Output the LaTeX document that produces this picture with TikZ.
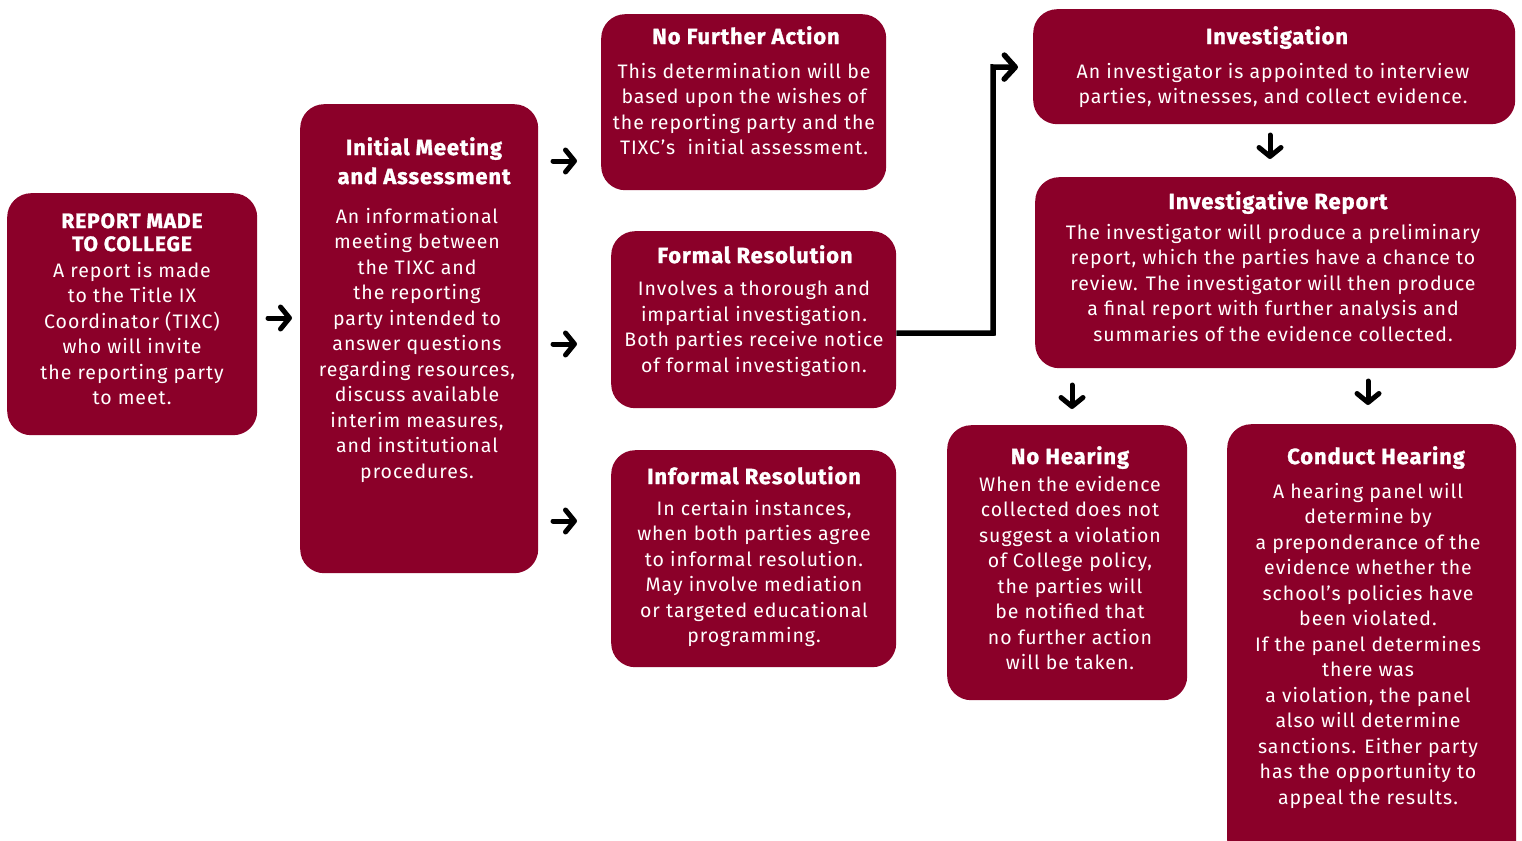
\documentclass[tikz,border=0pt]{standalone}
\usepackage{fontspec}
\setmainfont{Fira Sans}[LetterSpace=5,BoldFeatures={FakeBold=1.2,LetterSpace=4}]
\usetikzlibrary{arrows.meta,calc}
\definecolor{boxred}{RGB}{139,0,41}
\begin{document}
\begin{tikzpicture}[x=1pt,y=-1pt,
  box/.style={draw=none,fill=boxred,rounded corners=24pt,anchor=north west,inner sep=0pt},
  ttl/.style={text=white,align=center,inner sep=0pt,anchor=north,font=\bfseries\fontsize{22}{29}\selectfont},
  body/.style={text=white,align=center,inner sep=0pt,anchor=north,font=\fontsize{19.5}{25.5}\selectfont},
  arr/.style={line width=5pt,line cap=round,-{Straight Barb[length=9pt,width=22pt,round]}},
  elbow/.style={line width=5.5pt,-{Straight Barb[length=11pt,width=24pt,round]}}]
\useasboundingbox (0,0) rectangle (1522,840);
\clip (0,0) rectangle (1522,840);
% boxes
\node[box,minimum width=250pt,minimum height=242pt] (rep) at (7,193) {};
\node[box,minimum width=238pt,minimum height=469pt] (init) at (300,104) {};
\node[box,minimum width=285pt,minimum height=176pt] (nfa) at (601,14) {};
\node[box,minimum width=285pt,minimum height=177pt] (formal) at (611,231) {};
\node[box,minimum width=285pt,minimum height=217pt] (informal) at (611,450) {};
\node[box,minimum width=482pt,minimum height=115pt] (inv) at (1033,9) {};
\node[box,minimum width=481pt,minimum height=191pt] (irep) at (1035,177) {};
\node[box,minimum width=240pt,minimum height=275pt] (nohear) at (947,425) {};
\node[box,minimum width=289pt,minimum height=440pt] (conduct) at (1227,424) {};
% titles
\node[ttl,font=\bfseries\fontsize{21}{23}\selectfont] (rept) at (132,213) {REPORT MADE\\TO COLLEGE};
\node[ttl] (initt) at (424,137) {Initial Meeting\\and Assessment};
\node[ttl] (nfat) at (746,26) {No Further Action};
\node[ttl] (formalt) at (755,245) {Formal Resolution};
\node[ttl] (informalt) at (754,466) {Informal Resolution};
\node[ttl] (invt) at (1277,26) {Investigation};
\node[ttl] (irept) at (1278,191) {Investigative Report};
\node[ttl] (noheart) at (1070,446) {No Hearing};
\node[ttl] (conductt) at (1376,446) {Conduct Hearing};
% bodies
\node[body] (repb) at (132,262) {A report is made\\to the Title IX\\Coordinator (TIXC)\\who will invite\\the reporting party\\to meet.};
\node[body] (initb) at (417,208) {An informational\\meeting between\\the TIXC and\\the reporting\\party intended to\\answer questions\\regarding resources,\\discuss available\\interim measures,\\and institutional\\procedures.};
\node[body] (nfab) at (744,63) {This determination will be\\based upon the wishes of\\the reporting party and the\\TIXC’s\ \ initial assessment.};
\node[body] (formalb) at (754,281) {Involves a thorough and\\impartial investigation.\\Both parties receive notice\\of formal investigation.};
\node[body] (informalb) at (754,500) {In certain instances,\\when both parties agree\\to informal resolution.\\May involve mediation\\or targeted educational\\programming.};
\node[body] (invb) at (1273,63) {An investigator is appointed to interview\\parties, witnesses, and collect evidence.};
\node[body] (irepb) at (1273,224) {The investigator will produce a preliminary\\report, which the parties have a chance to\\review. The investigator will then produce\\a final report with further analysis and\\summaries of the evidence collected.};
\node[body] (nohearb) at (1070,476) {When the evidence\\collected does not\\suggest a violation\\of College policy,\\the parties will\\be notified that\\no further action\\will be taken.};
\node[body] (conductb) at (1368,483) {A hearing panel will\\determine by\\a preponderance of the\\evidence whether the\\school’s policies have\\been violated.\\If the panel determines\\there was\\a violation, the panel\\also will determine\\sanctions. Either party\\has the opportunity to\\appeal the results.};
% arrow coordinates
\coordinate (a1s) at (268,318); \coordinate (a1e) at (292,318);
\coordinate (a2s) at (553,161); \coordinate (a2e) at (577,161);
\coordinate (a3s) at (553,344); \coordinate (a3e) at (577,344);
\coordinate (a4s) at (553,521); \coordinate (a4e) at (577,521);
\coordinate (d1s) at (1270,135); \coordinate (d1e) at (1270,159);
\coordinate (d2s) at (1072,385); \coordinate (d2e) at (1072,409);
\coordinate (d3s) at (1368,381); \coordinate (d3e) at (1368,405);
\draw[arr] (a1s) -- (a1e);
\draw[arr] (a2s) -- (a2e);
\draw[arr] (a3s) -- (a3e);
\draw[arr] (a4s) -- (a4e);
\draw[arr] (d1s) -- (d1e);
\draw[arr] (d2s) -- (d2e);
\draw[arr] (d3s) -- (d3e);
% elbow connector
\coordinate (ebend) at (993,333);
\draw[elbow] ([yshift=-13.5pt]formal.east) -- (ebend) -- (ebend |- 0,67) -- ([xshift=-15pt,yshift=-0.5pt]inv.west);
\end{tikzpicture}
\end{document}
